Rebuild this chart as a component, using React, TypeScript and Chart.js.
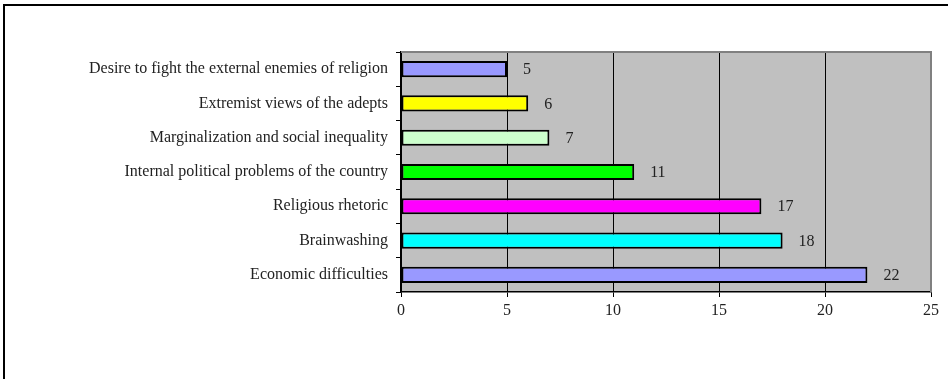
import React, { useEffect, useRef } from "react";
import { Chart, registerables } from "chart.js";

Chart.register(...registerables);

const categories = [
  "Desire to fight the external enemies of religion",
  "Extremist views of the adepts",
  "Marginalization and social inequality",
  "Internal political problems of the country",
  "Religious rhetoric",
  "Brainwashing",
  "Economic difficulties",
];
const values = [5, 6, 7, 11, 17, 18, 22];
const barColors = ["#9999FF", "#FFFF00", "#CCFFCC", "#00FF00", "#FF00FF", "#00FFFF", "#9999FF"];
const xMin = 0;
const xMax = 25;
const xStep = 5;

const FONT = "'Liberation Serif', 'Times New Roman', serif";

const plotDeco = {
  id: "plotDeco",
  beforeDraw(chart: any) {
    const { ctx, chartArea } = chart;
    ctx.save();
    ctx.fillStyle = "#C0C0C0";
    ctx.fillRect(chartArea.left, chartArea.top, chartArea.right - chartArea.left, chartArea.bottom - chartArea.top);
    ctx.restore();
  },
  afterDraw(chart: any) {
    const { ctx, chartArea } = chart;
    ctx.save();
    ctx.strokeStyle = "#808080";
    ctx.lineWidth = 2;
    ctx.beginPath();
    ctx.moveTo(chartArea.left, chartArea.top);
    ctx.lineTo(chartArea.right, chartArea.top);
    ctx.lineTo(chartArea.right, chartArea.bottom);
    ctx.stroke();
    // value labels
    const meta = chart.getDatasetMeta(0);
    ctx.fillStyle = "#222";
    ctx.font = `16px ${FONT}`;
    ctx.textAlign = "left";
    ctx.textBaseline = "middle";
    meta.data.forEach((bar: any, i: number) => {
      ctx.fillText(String(values[i]), bar.x + 16, bar.y + 1);
    });
    ctx.restore();
  },
};

export default function App() {
  const ref = useRef<HTMLCanvasElement>(null);
  useEffect(() => {
    if (!ref.current) return;
    const chart = new Chart(ref.current, {
      type: "bar",
      data: {
        labels: categories,
        datasets: [
          {
            data: values,
            backgroundColor: barColors,
            borderColor: "#000",
            borderWidth: 2,
            borderSkipped: false,
            barPercentage: 0.47,
            categoryPercentage: 1,
          },
        ],
      },
      options: {
        indexAxis: "y",
        animation: false,
        responsive: false,
        devicePixelRatio: 1,
        layout: { padding: { left: 0, top: 52, right: 17, bottom: 0 } },
        plugins: { legend: { display: false }, tooltip: { enabled: false } },
        scales: {
          x: {
            type: "linear",
            min: xMin,
            max: xMax,
            ticks: { stepSize: xStep, color: "#222", font: { family: FONT, size: 16 }, padding: 4 },
            grid: {
              color: (c: any) => (c.tick && c.tick.value === xMax ? "#808080" : "#000"),
              tickColor: "#000",
              tickLength: 5,
              lineWidth: 1,
            },
            border: { color: "#000", width: 1.5 },
            afterFit: (s: any) => {
              s.height = 87;
            },
          },
          y: {
            ticks: { color: "#222", font: { family: FONT, size: 16 }, padding: 8 },
            grid: { drawOnChartArea: false, drawTicks: true, tickLength: 5, color: "#000", offset: true },
            border: { color: "#000", width: 1.5 },
            afterFit: (s: any) => {
              s.width = 401;
            },
          },
        },
      },
      plugins: [plotDeco],
    } as any);
    return () => chart.destroy();
  }, []);
  return (
    <div style={{ position: "fixed", left: 0, top: 0, width: 948, height: 379, background: "#fff" }}>
      <div
        style={{
          position: "absolute",
          left: 3,
          top: 4,
          right: 0,
          bottom: 0,
          borderLeft: "2px solid #000",
          borderTop: "2px solid #000",
        }}
      />
      <canvas ref={ref} width={948} height={379} style={{ position: "absolute", left: 0, top: 0 }} />
    </div>
  );
}
